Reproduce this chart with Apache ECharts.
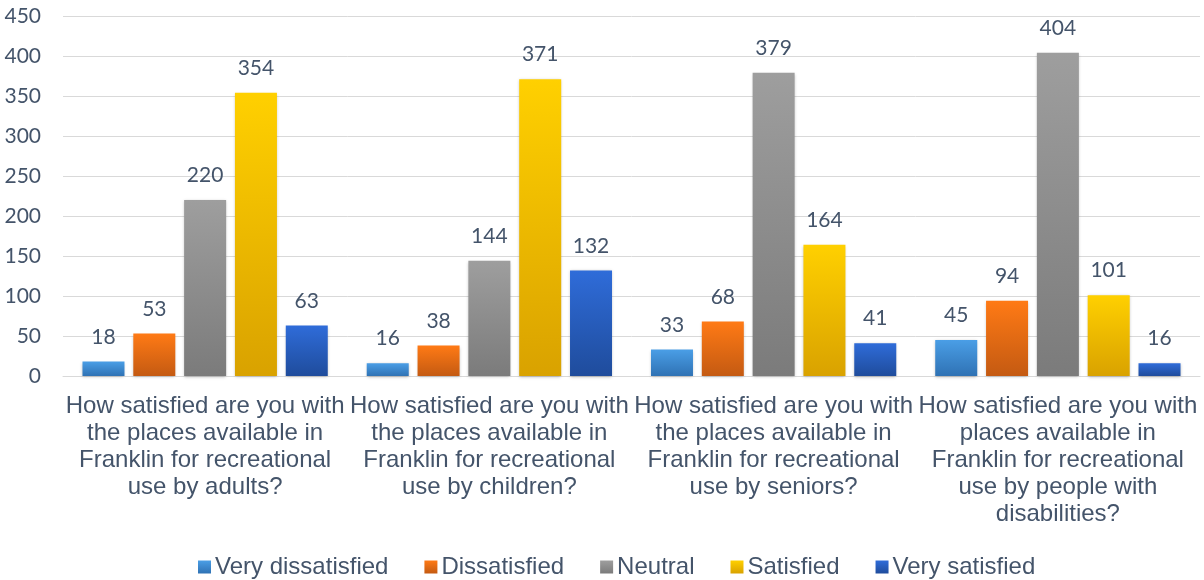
<!DOCTYPE html>
<html>
<head>
<meta charset="utf-8">
<script src="https://cdn.jsdelivr.net/npm/echarts@6/dist/echarts.min.js"></script>
<style>
  html, body { margin: 0; padding: 0; background: #fff; }
  #main { width: 1204px; height: 580px; }
</style>
</head>
<body>
<div id="main"></div>
<script>
// categories and values
var categories = [
    'How satisfied are you with\nthe places available in\nFranklin for recreational\nuse by adults?',
    'How satisfied are you with\nthe places available in\nFranklin for recreational\nuse by children?',
    'How satisfied are you with\nthe places available in\nFranklin for recreational\nuse by seniors?',
    'How satisfied are you with\nplaces available in\nFranklin for recreational\nuse by people with\ndisabilities?'
];
var seriesNames = ['Very dissatisfied', 'Dissatisfied', 'Neutral', 'Satisfied', 'Very satisfied'];
var veryDissatisfied = [18, 16, 33, 45];
var dissatisfied = [53, 38, 68, 94];
var neutral = [220, 144, 379, 404];
var satisfied = [354, 371, 164, 101];
var verySatisfied = [63, 132, 41, 16];
var yTicks = [0, 450, 50]; // min, max, interval

var values = [veryDissatisfied, dissatisfied, neutral, satisfied, verySatisfied];
var colorStops = [
    ['#4a9ee6', '#2f72b4'],
    ['#ff7a15', '#c45a12'],
    ['#9e9e9e', '#7b7b7b'],
    ['#ffd000', '#d9a200'],
    ['#2f6cd9', '#1f4c9c']
];
var textColor = '#44546a';
var arial = "'Liberation Sans', Arial, sans-serif";
var numFont = "Lato, 'Open Sans', sans-serif";

function grad(c) {
    return new echarts.graphic.LinearGradient(0, 0, 0, 1, [
        { offset: 0, color: c[0] },
        { offset: 1, color: c[1] }
    ]);
}

var myChart = echarts.init(document.getElementById('main'));
var series = [];
for (var i = 0; i < seriesNames.length; i++) {
    series.push({
        name: seriesNames[i],
        type: 'bar',
        data: values[i],
        barWidth: 42,
        barGap: '21%',
        itemStyle: {
            color: grad(colorStops[i]),
            shadowColor: 'rgba(0,0,0,0.25)',
            shadowBlur: 3,
            shadowOffsetY: 1
        },
        label: {
            show: true,
            position: 'top',
            distance: 14,
            color: textColor,
            fontSize: 21,
            fontFamily: numFont
        }
    });
}

var option = {
    animation: false,
    grid: { left: 63, right: 4, top: 16, bottom: 204 },
    legend: {
        bottom: -4,
        left: 193,
        itemWidth: 13,
        itemHeight: 13,
        itemGap: 36,
        icon: 'rect',
        textStyle: { color: textColor, fontSize: 24, fontFamily: arial, padding: [0, 0, 0, -1] },
        data: seriesNames.map(function (n, k) {
            return { name: n, itemStyle: { color: grad(colorStops[k]) } };
        })
    },
    xAxis: {
        type: 'category',
        data: categories,
        axisLine: { show: true, lineStyle: { color: '#d9d9d9' } },
        axisTick: { show: false },
        axisLabel: {
            interval: 0,
            color: textColor,
            fontSize: 24,
            lineHeight: 27,
            margin: 17,
            fontFamily: arial
        }
    },
    yAxis: {
        type: 'value',
        min: yTicks[0],
        max: yTicks[1],
        interval: yTicks[2],
        axisLine: { show: false },
        axisTick: { show: false },
        splitLine: { lineStyle: { color: '#d9d9d9', width: 1 } },
        axisLabel: {
            color: textColor,
            fontSize: 21,
            margin: 22,
            fontFamily: numFont
        }
    },
    series: series
};
myChart.setOption(option);
</script>
</body>
</html>
